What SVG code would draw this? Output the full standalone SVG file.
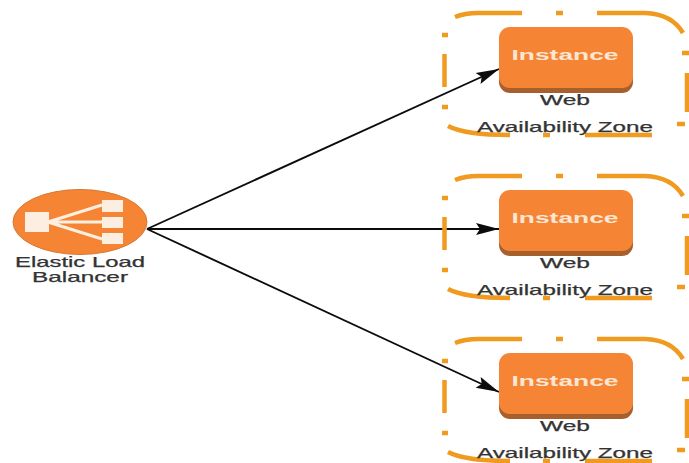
<svg xmlns="http://www.w3.org/2000/svg" xmlns:xlink="http://www.w3.org/1999/xlink" width="689" height="463" viewBox="0 0 689 463">
<defs>
<style>
.zone{fill:none;stroke:#f09a1f;stroke-width:4.5;stroke-linecap:butt}
.lbl{font-family:"Liberation Sans",Arial,sans-serif;font-size:14.5px;fill:#333;stroke:#333;stroke-width:.25;text-anchor:middle}
.inst{font-family:"Liberation Sans",Arial,sans-serif;font-weight:700;font-size:15.5px;fill:#fbe6d4;text-anchor:middle}
.conn{fill:none;stroke:#0c0c0c;stroke-width:1.9}
</style>
<marker id="arrow" markerUnits="userSpaceOnUse" markerWidth="24" markerHeight="14" refX="23" refY="7" orient="auto"><path d="M0 1L23 7L0 13L4 7Z" fill="#0c0c0c"/></marker>
<g id="zoneShape">
<path class="zone" d="M455 17Q465 13 478 13L522 13M556 13H563M597 13H645Q672 14 683 33M442 35H448M444.5 54V87M442 107H448M448 126Q465 135 510 135M543 135H550M585 135H652M677 124H685M682 53H689M687 73V112"/>
</g>
<g id="instShape">
<rect x="499" y="33" width="134" height="60" rx="11" fill="#a85f2e"/>
<rect x="499" y="27" width="134" height="61" rx="11" fill="#f58535"/>
</g>
</defs>
<rect width="689" height="463" fill="#fff"/>
<g id="connectors">
<path class="conn" marker-end="url(#arrow)" d="M147 229L499 69"/>
<path class="conn" marker-end="url(#arrow)" d="M147 229H499"/>
<path class="conn" marker-end="url(#arrow)" d="M147 229L499 392"/>
</g>
<g id="zone-1"><use xlink:href="#zoneShape"/><text class="lbl" x="565" y="132" textLength="176" lengthAdjust="spacingAndGlyphs">Availability Zone</text></g>
<g id="zone-2"><use xlink:href="#zoneShape" y="163"/><text class="lbl" x="565" y="295" textLength="176" lengthAdjust="spacingAndGlyphs">Availability Zone</text></g>
<g id="zone-3"><use xlink:href="#zoneShape" y="326"/><text class="lbl" x="565" y="458" textLength="176" lengthAdjust="spacingAndGlyphs">Availability Zone</text></g>
<g id="instance-1"><use xlink:href="#instShape"/><text class="inst" x="565" y="60" textLength="107" lengthAdjust="spacingAndGlyphs">Instance</text><text class="lbl" x="565" y="105" textLength="50" lengthAdjust="spacingAndGlyphs">Web</text></g>
<g id="instance-2"><use xlink:href="#instShape" y="163"/><text class="inst" x="565" y="223" textLength="107" lengthAdjust="spacingAndGlyphs">Instance</text><text class="lbl" x="565" y="268" textLength="50" lengthAdjust="spacingAndGlyphs">Web</text></g>
<g id="instance-3"><use xlink:href="#instShape" y="326"/><text class="inst" x="565" y="386" textLength="107" lengthAdjust="spacingAndGlyphs">Instance</text><text class="lbl" x="565" y="431" textLength="50" lengthAdjust="spacingAndGlyphs">Web</text></g>
<g id="elb">
<ellipse cx="80" cy="222" rx="67" ry="32.500" fill="#f58535" stroke="#d9772e" stroke-width="1"/>
<rect x="25" y="212" width="24" height="20" fill="#fdeee2"/>
<rect x="102" y="200" width="21" height="12" fill="#fdeee2"/>
<rect x="102" y="217" width="21" height="11" fill="#fdeee2"/>
<rect x="102" y="233" width="21" height="11" fill="#fdeee2"/>
<path d="M48 222L102 205M48 222H102M48 222L102 239" fill="none" stroke="#fdeee2" stroke-width="3"/>
<text class="lbl" x="80" y="267" textLength="130" lengthAdjust="spacingAndGlyphs">Elastic Load</text>
<text class="lbl" x="80" y="282" textLength="96" lengthAdjust="spacingAndGlyphs">Balancer</text>
</g>
</svg>
